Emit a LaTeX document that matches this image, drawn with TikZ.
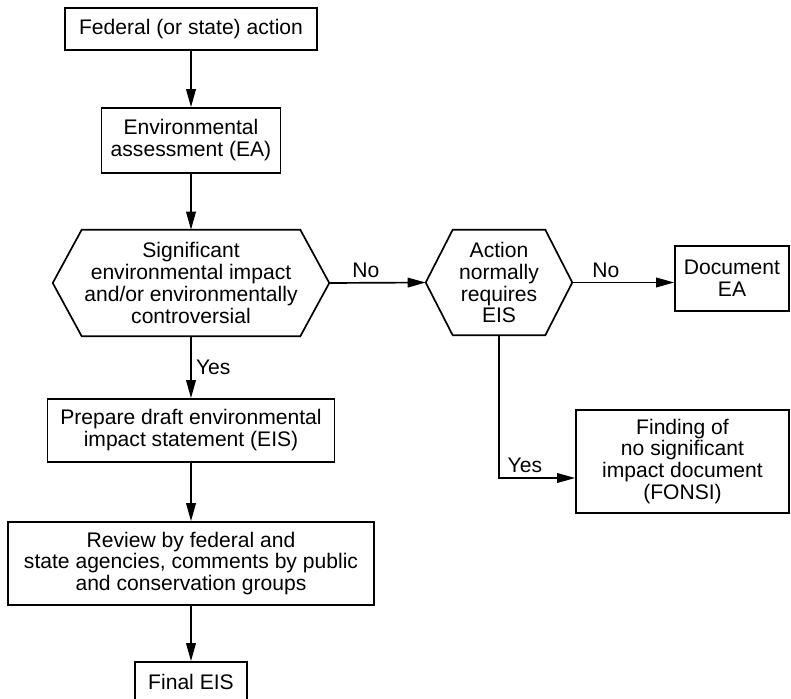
\documentclass[tikz,border=0pt]{standalone}
\usepackage{fontspec}
\setmainfont{Liberation Sans}
\usetikzlibrary{positioning,arrows.meta,calc}

\tikzset{
  txt/.style={font=\fontsize{15}{15.6}\selectfont},
  box/.style={txt, rectangle, draw, line width=1.2pt, align=center, inner sep=2pt},
  hexbox/.style={txt, rectangle, align=center, inner sep=0pt},
  flow/.style={-{Triangle[length=4.5mm,width=2.4mm]}, line width=1.2pt},
  tag/.style={txt, inner sep=3pt}
}

\begin{document}
\begin{tikzpicture}
\useasboundingbox (0,0) rectangle (19.775,-17.475);

% main column
\node[box, minimum width=6.3cm, minimum height=1.05cm] (fed) at (4.775,-0.725) {Federal (or state) action};
\node[box, minimum width=4.475cm, minimum height=1.625cm] (ea) at (4.775,-3.5125) {Environmental\\assessment (EA)};
\node[hexbox, minimum width=6.9cm, minimum height=2.65cm] (sig) at (4.775,-7.075)
  {Significant\\environmental impact\\and/or environmentally\\controversial};
\node[box, minimum width=7.175cm, minimum height=1.575cm] (draft) at (4.775,-10.7625)
  {Prepare draft environmental\\impact statement (EIS)};
\node[box, minimum width=9.15cm, minimum height=2.075cm] (rev) at (4.775,-14.0875)
  {Review by federal and\\state agencies, comments by public\\and conservation groups};
\node[box, minimum width=2.8cm, minimum height=1.0cm] (final) at (4.775,-17.05) {Final EIS};

% right side
\node[hexbox, minimum width=3.65cm, minimum height=2.625cm] (act) at (12.475,-7.0625)
  {Action\\normally\\requires\\EIS};
\node[box, minimum width=2.85cm, minimum height=1.625cm] (doc) at (18.3,-6.9625) {Document\\EA};
\node[box, minimum width=5.325cm, minimum height=2.575cm] (fonsi) at (17.0625,-11.5375)
  {Finding of\\no significant\\impact document\\(FONSI)};

% hexagon outlines
\draw[line width=1.2pt] (sig.west) -- ($(sig.north west)+(0.725,0)$) -- ($(sig.north east)+(-0.725,0)$)
  -- (sig.east) -- ($(sig.south east)+(-0.725,0)$) -- ($(sig.south west)+(0.725,0)$) -- cycle;
\draw[line width=1.2pt] (act.west) -- ($(act.north west)+(0.675,0)$) -- ($(act.north east)+(-0.675,0)$)
  -- (act.east) -- ($(act.south east)+(-0.675,0)$) -- ($(act.south west)+(0.675,0)$) -- cycle;

% connectors
\draw[flow] (fed) -- (ea);
\draw[flow] (ea) -- (sig);
\draw[flow] (sig) -- node[tag, right, pos=0.5] {Yes} (draft);
\draw[flow] (draft) -- (rev);
\draw[flow] (rev) -- (final);
\draw[flow] (sig.east) -- node[tag, above, pos=0.38] {No} (act.west);
\draw[flow] (act.east) -- node[tag, above, pos=0.33] {No} (doc.west |- act.east);
\draw[flow] (act.south) |- node[tag, above, pos=0.67] {Yes} ($(fonsi.west)+(0,-0.4125)$);
\end{tikzpicture}
\end{document}
